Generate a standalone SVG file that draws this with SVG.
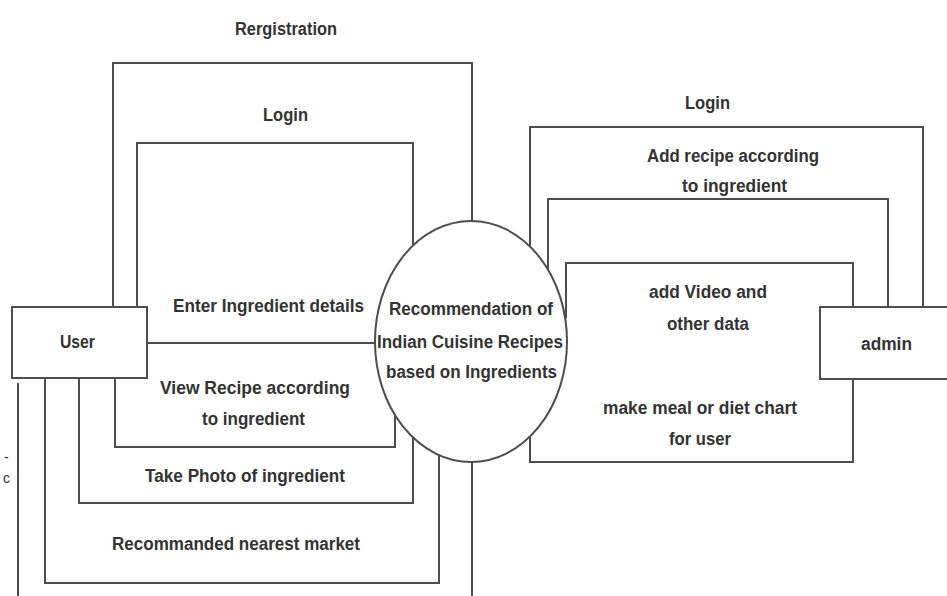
<svg xmlns="http://www.w3.org/2000/svg" width="947" height="596" viewBox="0 0 947 596">
<style>
.ln{fill:none;stroke:#4d4d4d;stroke-width:2}
.nd{fill:#fff;stroke:#4d4d4d;stroke-width:2}
.t{font-family:"Liberation Sans Narrow","Liberation Sans",Arial,sans-serif;font-weight:bold;font-size:18px;fill:#333}
.s{font-family:"Liberation Sans",Arial,sans-serif;font-size:14px;fill:#333}
</style>
<rect width="947" height="596" fill="#fff"/>
<g id="connectors">
<path class="ln" d="M113,307 V63 H472 V221"/>
<path class="ln" d="M137,307 V143 H413 V245"/>
<path class="ln" d="M115,378 V447 H395 V416"/>
<path class="ln" d="M79,378 V503 H413 V438"/>
<path class="ln" d="M45,378 V583 H439 V455"/>
<path class="ln" d="M472,462 V596"/>
<path class="ln" d="M18,383 V596"/>
<path class="ln" d="M147,343 H375"/>
<path class="ln" d="M923,307 V127 H530 V248"/>
<path class="ln" d="M888,307 V199 H548 V273"/>
<path class="ln" d="M853,307 V263 H566 V318"/>
<path class="ln" d="M853,379 V462 H530 V435"/>
</g>
<g id="labels">
<text class="t" x="235" y="35" textLength="102" lengthAdjust="spacingAndGlyphs">Rergistration</text>
<text class="t" x="263" y="121" textLength="45" lengthAdjust="spacingAndGlyphs">Login</text>
<text class="t" x="173" y="312" textLength="191" lengthAdjust="spacingAndGlyphs">Enter Ingredient details</text>
<text class="t" x="160" y="394" textLength="190" lengthAdjust="spacingAndGlyphs">View Recipe according</text>
<text class="t" x="202" y="425" textLength="103" lengthAdjust="spacingAndGlyphs">to ingredient</text>
<text class="t" x="145" y="482" textLength="200" lengthAdjust="spacingAndGlyphs">Take Photo of ingredient</text>
<text class="t" x="112" y="550" textLength="248" lengthAdjust="spacingAndGlyphs">Recommanded nearest market</text>
<text class="t" x="685" y="109" textLength="45" lengthAdjust="spacingAndGlyphs">Login</text>
<text class="t" x="647" y="162" textLength="172" lengthAdjust="spacingAndGlyphs">Add recipe according</text>
<text class="t" x="682" y="192" textLength="105" lengthAdjust="spacingAndGlyphs">to ingredient</text>
<text class="t" x="649" y="298" textLength="118" lengthAdjust="spacingAndGlyphs">add Video and</text>
<text class="t" x="667" y="330" textLength="82" lengthAdjust="spacingAndGlyphs">other data</text>
<text class="t" x="603" y="414" textLength="194" lengthAdjust="spacingAndGlyphs">make meal or diet chart</text>
<text class="t" x="669" y="445" textLength="62" lengthAdjust="spacingAndGlyphs">for user</text>
<text class="s" x="4" y="462">-</text>
<text class="s" x="3" y="483">c</text>
</g>
<g id="user">
<rect class="nd" x="12" y="307" width="135" height="71"/>
<text class="t" x="60" y="348" textLength="35" lengthAdjust="spacingAndGlyphs">User</text>
</g>
<g id="admin">
<rect class="nd" x="820" y="307" width="140" height="72"/>
<text class="t" x="861" y="350" textLength="51" lengthAdjust="spacingAndGlyphs">admin</text>
</g>
<g id="process">
<ellipse class="nd" cx="471" cy="341.5" rx="96" ry="120.5"/>
<text class="t" x="389" y="315" textLength="164" lengthAdjust="spacingAndGlyphs">Recommendation of</text>
<text class="t" x="377" y="348" textLength="186" lengthAdjust="spacingAndGlyphs">Indian Cuisine Recipes</text>
<text class="t" x="386" y="378" textLength="171" lengthAdjust="spacingAndGlyphs">based on Ingredients</text>
</g>
</svg>
